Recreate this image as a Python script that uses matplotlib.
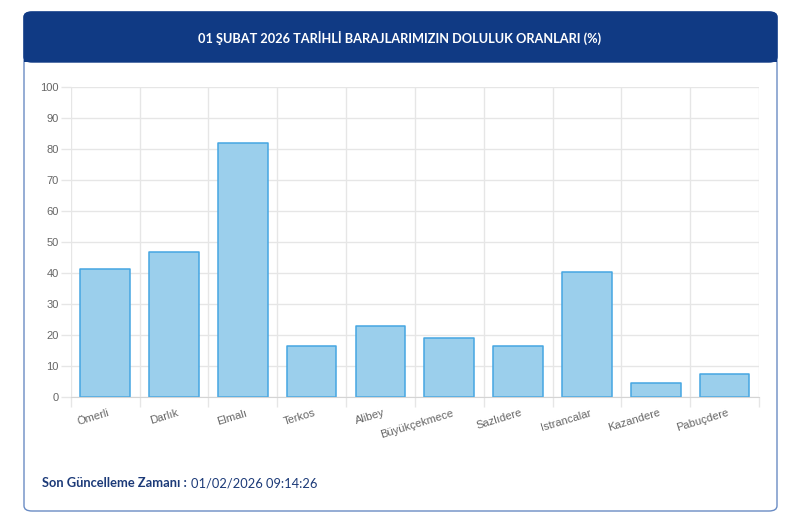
import matplotlib
matplotlib.use("Agg")
import matplotlib.pyplot as plt
import matplotlib.transforms as mtransforms
from matplotlib.patches import FancyBboxPatch
import numpy as np

# ================== Data ==================
DAMS = ["Ömerli", "Darlık", "Elmalı", "Terkos", "Alibey", "Büyükçekmece",
        "Sazlıdere", "Istrancalar", "Kazandere", "Pabuçdere"]
FILL_PCT = [41.1, 46.8, 81.7, 16.5, 22.7, 18.9, 16.5, 40.1, 4.4, 7.4]
Y_TICKS = list(range(0, 101, 10))

TITLE = "01 ŞUBAT 2026 TARİHLİ BARAJLARIMIZIN DOLULUK ORANLARI (%)"
FOOT_LABEL = "Son Güncelleme Zamanı :"
FOOT_VALUE = "01/02/2026 09:14:26"

# ================== Style ==================
W, H = 800, 521
HEADER_BLUE = "#103a84"
BORDER = "#6a8cc4"
BAR_FILL = "#9bcfec"
BAR_EDGE = "#45a6e2"
GRID = "#e6e6e6"
TICK_TEXT = "#666666"


def px(x, y):
    """Pixel coords (top-left origin) -> figure fraction."""
    return x / W, 1 - y / H


fig = plt.figure(figsize=(W / 100, H / 100), dpi=100)
fig.patch.set_facecolor("white")

# card with header band
x0, y0 = px(24, 511)
card = FancyBboxPatch((x0, y0), (777 - 24) / W, (511 - 12) / H,
                      boxstyle="round,pad=0,rounding_size=0.01",
                      transform=fig.transFigure, facecolor="white",
                      edgecolor=BORDER, linewidth=1.0, zorder=0)
fig.patches.append(card)
hx, hy = px(24, 62)
header = FancyBboxPatch((hx, hy), (777 - 24) / W, (62 - 12) / H,
                        boxstyle="round,pad=0,rounding_size=0.01",
                        transform=fig.transFigure, facecolor=HEADER_BLUE,
                        edgecolor=HEADER_BLUE, linewidth=1.0, zorder=1)
fig.patches.append(header)
# square off the header's bottom corners
sq = plt.Rectangle(px(24, 62), (777 - 24) / W, 15 / H,
                   transform=fig.transFigure, facecolor=HEADER_BLUE,
                   edgecolor="none", zorder=1)
fig.patches.append(sq)

fig.text(*px(400, 37.5), TITLE, ha="center", va="center", color="white",
         fontsize=9.2, fontweight="bold", family="Lato", zorder=3)

# ================== Chart ==================
left, bottom = px(70.7, 396.7)
right, top = px(759, 86.7)
ax = fig.add_axes([left, bottom, right - left, top - bottom])
ax.set_facecolor("none")
ax.set_zorder(2)

xpos = np.arange(len(DAMS))
ax.bar(xpos, FILL_PCT, width=0.72, color=BAR_FILL, edgecolor=BAR_EDGE,
       linewidth=1.1, joinstyle="round", zorder=2)

ax.set_xlim(-0.5, len(DAMS) - 0.5)
ax.set_ylim(0, 100)
ax.set_yticks(Y_TICKS)
ax.set_xticks(xpos)
ax.set_xticklabels(DAMS, rotation=17, ha="right", va="top",
                   rotation_mode="anchor")
ax.set_xticks(np.arange(len(DAMS) + 1) - 0.5, minor=True)

ax.grid(True, axis="y", color=GRID, linewidth=1.0, zorder=0)
ax.grid(True, axis="x", which="minor", color=GRID, linewidth=1.0, zorder=0)
ax.set_axisbelow(True)
ax.tick_params(axis="x", which="major", length=0, pad=8,
               labelsize=8, labelcolor=TICK_TEXT)
ax.tick_params(axis="x", which="minor", length=7, color=GRID, width=1.0)
ax.tick_params(axis="y", length=7, color=GRID, width=1.0, pad=1.5,
               labelsize=8, labelcolor=TICK_TEXT)
shift = mtransforms.ScaledTranslation(2.5 / 100, 0, fig.dpi_scale_trans)
for lab in ax.get_xticklabels():
    lab.set_family("Liberation Sans")
    lab.set_transform(lab.get_transform() + shift)
for lab in ax.get_yticklabels():
    lab.set_family("Liberation Sans")

for side in ["top", "right", "left"]:
    ax.spines[side].set_visible(False)
ax.spines["bottom"].set_color("#d4d4d4")

# ================== Footer ==================
t = fig.text(*px(42, 483), FOOT_LABEL, ha="left", va="center",
             color="#1c3a78", fontsize=9.3, fontweight="bold", family="Lato")
fig.canvas.draw()
bb = t.get_window_extent()
fig.text(bb.x1 / W + 4 / W, px(0, 483)[1], FOOT_VALUE, ha="left",
         va="center", color="#1c3a78", fontsize=9.3, family="Lato")

fig.savefig("out.png", dpi=100, facecolor="white")
